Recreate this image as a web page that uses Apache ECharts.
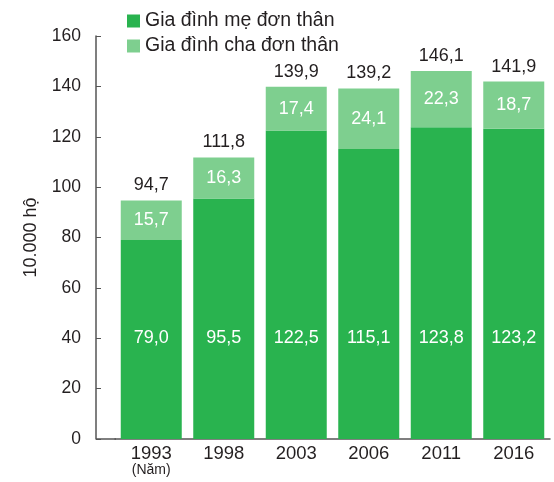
<!DOCTYPE html>
<html>
<head>
<meta charset="utf-8">
<script src="https://cdn.jsdelivr.net/npm/echarts@6/dist/echarts.min.js"></script>
<style>
html, body { margin: 0; padding: 0; background: #fff; }
#main { width: 554px; height: 482px; }
</style>
</head>
<body>
<div id="main"></div>
<script>
var years = ['1993', '1998', '2003', '2006', '2011', '2016'];
var motherData = [79.0, 95.5, 122.5, 115.1, 123.8, 123.2];
var fatherData = [15.7, 16.3, 17.4, 24.1, 22.3, 18.7];
var yTicks = [0, 20, 40, 60, 80, 100, 120, 140, 160];

var darkGreen = '#29b34f';
var lightGreen = '#7ecf8f';
var textColor = '#231f20';
var font = '"Liberation Sans", Arial, sans-serif';

function fmt(v) {
    return v.toFixed(1).replace('.', ',');
}

var chart = echarts.init(document.getElementById('main'));

var option = {
    animation: false,
    textStyle: { fontFamily: font },
    legend: {
        data: ['Gia đình mẹ đơn thân', 'Gia đình cha đơn thân'],
        orient: 'vertical',
        left: 122,
        top: 6,
        itemWidth: 13,
        itemHeight: 13,
        itemGap: 5,
        icon: 'rect',
        textStyle: { fontSize: 19.5, lineHeight: 20, color: textColor, fontFamily: font }
    },
    grid: { left: 115, right: 4, top: 36, bottom: 43 },
    xAxis: {
        type: 'category',
        data: years,
        axisLine: { lineStyle: { color: '#555', width: 1.5 } },
        axisTick: { show: false },
        axisLabel: {
            interval: 0,
            margin: 5,
            fontSize: 18.5,
            lineHeight: 19,
            color: textColor,
            fontFamily: font,
            formatter: function (v, i) {
                return i === 0 ? v + '\n{s|(Năm)}' : v;
            },
            rich: {
                s: { fontSize: 14, color: textColor, fontFamily: font, lineHeight: 14 }
            }
        }
    },
    yAxis: {
        type: 'value',
        min: yTicks[0],
        max: yTicks[yTicks.length - 1],
        interval: 20,
        offset: 19,
        name: '10.000 hộ',
        nameLocation: 'middle',
        nameGap: 56,
        nameRotate: 90,
        nameTextStyle: { fontSize: 18, color: textColor, fontFamily: font },
        axisLine: { show: true, lineStyle: { color: '#555', width: 1.5 } },
        axisTick: { show: true, inside: true, length: 5, lineStyle: { color: '#555' } },
        splitLine: { show: false },
        axisLabel: { fontSize: 17.5, color: textColor, margin: 15, fontFamily: font }
    },
    graphic: [{
        type: 'line',
        shape: { x1: 96, y1: 439, x2: 116, y2: 439 },
        style: { stroke: '#555', lineWidth: 1.5 }
    }],
    series: [{
        name: 'Gia đình mẹ đơn thân',
        type: 'bar',
        stack: 'total',
        barWidth: 61,
        itemStyle: { color: darkGreen },
        label: {
            show: true,
            position: 'insideBottom',
            distance: 92,
            color: '#fff',
            fontSize: 18,
            fontFamily: font,
            formatter: function (p) { return fmt(p.value); }
        },
        data: motherData
    }, {
        name: 'Gia đình cha đơn thân',
        type: 'bar',
        stack: 'total',
        itemStyle: { color: lightGreen },
        label: {
            show: true,
            position: 'inside',
            color: '#fff',
            fontSize: 18,
            fontFamily: font,
            formatter: function (p) { return fmt(p.value); }
        },
        data: fatherData
    }, {
        name: 'total',
        type: 'bar',
        stack: 'total',
        itemStyle: { color: 'transparent' },
        label: {
            show: true,
            position: 'top',
            distance: 6,
            color: textColor,
            fontSize: 18,
            fontFamily: font,
            formatter: function (p) {
                return fmt(motherData[p.dataIndex] + fatherData[p.dataIndex]);
            }
        },
        data: years.map(function () { return 0; })
    }]
};

chart.setOption(option);
</script>
</body>
</html>
